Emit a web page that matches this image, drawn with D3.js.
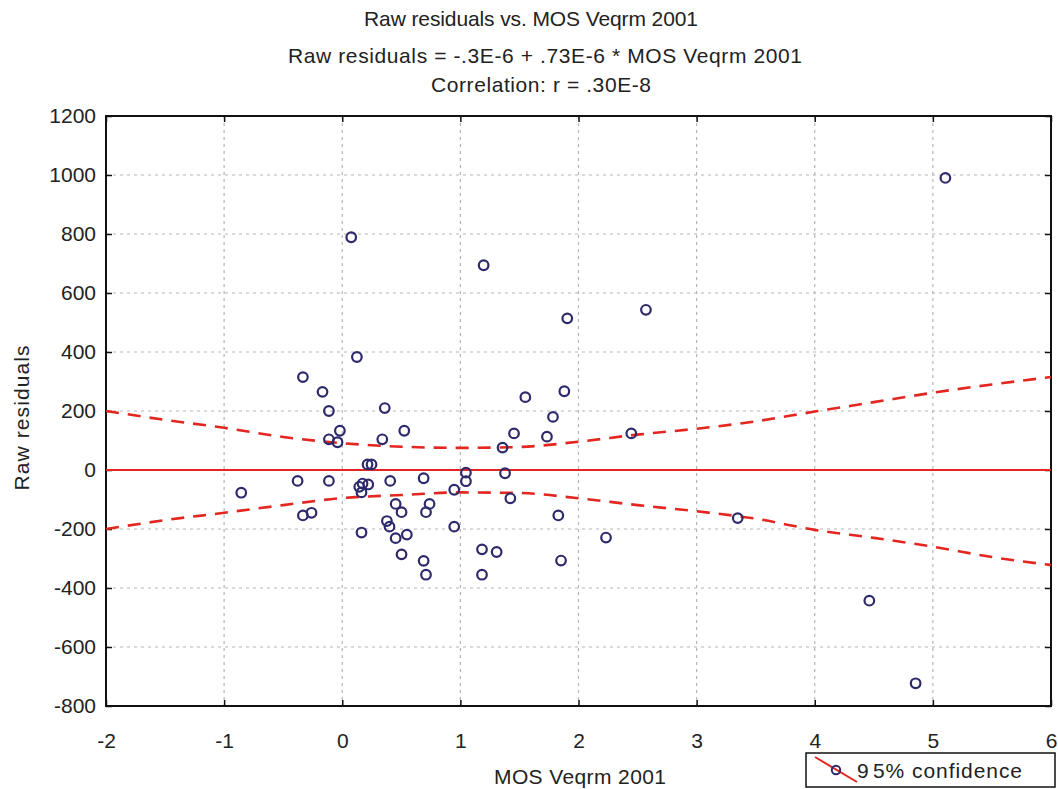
<!DOCTYPE html>
<html>
<head>
<meta charset="utf-8">
<script src="https://cdn.jsdelivr.net/npm/d3@7"></script>
<style>
  html, body { margin: 0; padding: 0; background: #fff; }
  svg { display: block; }
  text { font-family: "Liberation Sans", Arial, Helvetica, sans-serif; fill: #222; }
</style>
</head>
<body>
<svg id="chart" width="1058" height="789"></svg>
<script>
// ---- Data ----
const xVals = [-0.855, -0.378, -0.333, -0.333, -0.26, -0.167, -0.113, -0.113, -0.113, -0.04,
  -0.02, 0.076, 0.124, 0.144, 0.172, 0.163, 0.22, 0.163, 0.214, 0.248,
  0.339, 0.36, 0.378, 0.40, 0.406, 0.452, 0.452, 0.502, 0.502, 0.525,
  0.547, 0.689, 0.689, 0.709, 0.709, 0.739, 0.948, 0.948, 1.047, 1.047,
  1.183, 1.183, 1.197, 1.307, 1.357, 1.378, 1.423, 1.454, 1.55, 1.733,
  1.784, 1.829, 1.852, 1.88, 1.905, 2.233, 2.447, 2.571, 3.348, 4.462,
  4.854, 5.106];
const yVals = [-77, -37, 315, -154, -145, 265, 200, 104, -37, 94,
  133, 789, 383, -57, -46, -76, -49, -212, 19, 19,
  104, 210, -173, -192, -37, -115, -231, -143, -286, 133,
  -219, -28, -308, -143, -355, -115, -67, -192, -9, -38,
  -269, -355, 694, -278, 76, -11, -96, 124, 247, 113,
  180, -154, -307, 267, 514, -229, 124, 543, -163, -443,
  -723, 990];

const fitX = [-2, 6];
const fitY = [0, 0];

const bandX     = [-2, -1.5, -1, -0.5, 0, 0.5, 1, 1.5, 2, 2.5, 3, 3.5, 4, 4.5, 5, 5.5, 6];
const bandUpper = [200, 170, 143, 112, 91, 79, 75, 78, 96, 120, 140, 165, 198, 230, 262, 290, 315];
const bandLower = [-200, -170, -145, -119, -95, -85, -76, -78, -96, -119, -140, -165, -203, -230, -260, -295, -322];

const xTicks = [-2, -1, 0, 1, 2, 3, 4, 5, 6];
const yTicks = [-800, -600, -400, -200, 0, 200, 400, 600, 800, 1000, 1200];

const titleLines = ["Raw residuals vs. MOS Veqrm 2001",
  "Raw residuals = -.3E-6 + .73E-6 * MOS Veqrm 2001",
  "Correlation: r = .30E-8"];
const xLabel = "MOS Veqrm 2001";
const yLabel = "Raw residuals";
const legendParts = ["9", "5% confidence"];

// ---- Layout ----
const L = 106, R = 1051, T = 116, B = 706;
const RED = "#e3261f", NAVY = "#2d2a6c";
const FS = 21;

const svg = d3.select("#chart");
const x = d3.scaleLinear().domain([-2, 6]).range([L, R]);
const y = d3.scaleLinear().domain([-800, 1200]).range([B, T]);
const fmt = d => String(d);

// grid
const grid = svg.append("g");
grid.selectAll("line.gx").data(xTicks.slice(1, -1)).join("line")
  .attr("x1", d => x(d)).attr("x2", d => x(d)).attr("y1", T).attr("y2", B)
  .attr("stroke", "#b5b5b5").attr("stroke-width", 1.2).attr("stroke-dasharray", "3,4");
grid.selectAll("line.gy").data(yTicks.slice(1, -1)).join("line")
  .attr("y1", d => y(d)).attr("y2", d => y(d)).attr("x1", L).attr("x2", R)
  .attr("stroke", "#b5b5b5").attr("stroke-width", 1.2).attr("stroke-dasharray", "3,4");

// axes
const ax = svg.append("g").attr("transform", `translate(0,${B})`)
  .call(d3.axisBottom(x).tickValues(xTicks).tickSize(-6).tickPadding(27).tickFormat(fmt));
const ay = svg.append("g").attr("transform", `translate(${L},0)`)
  .call(d3.axisLeft(y).tickValues(yTicks).tickSize(-6).tickPadding(10).tickFormat(fmt));
const axR = svg.append("g").attr("transform", `translate(${R},0)`)
  .call(d3.axisRight(y).tickValues(yTicks).tickSize(-6).tickFormat(""));
const axT = svg.append("g").attr("transform", `translate(0,${T})`)
  .call(d3.axisTop(x).tickValues(xTicks).tickSize(-6).tickFormat(""));
[ax, ay, axR, axT].forEach(g => {
  g.select(".domain").remove();
  g.selectAll(".tick line").attr("stroke", "#111").attr("stroke-width", 1.5);
  g.selectAll(".tick text").attr("font-size", FS).attr("fill", "#222")
    .attr("font-family", "'Liberation Sans', Arial, sans-serif");
});

// frame
svg.append("rect").attr("x", L).attr("y", T).attr("width", R - L).attr("height", B - T)
  .attr("fill", "none").attr("stroke", "#111").attr("stroke-width", 2);

// confidence bands
const bandLine = d3.line().x((d, i) => x(bandX[i])).y(d => y(d)).curve(d3.curveMonotoneX);
[bandUpper, bandLower].forEach(arr => {
  svg.append("path").attr("d", bandLine(arr))
    .attr("fill", "none").attr("stroke", RED).attr("stroke-width", 2.6)
    .attr("stroke-dasharray", "13,9");
});

// regression line
svg.append("path").attr("d", d3.line().x((d, i) => x(fitX[i])).y(d => y(d))(fitY))
  .attr("fill", "none").attr("stroke", RED).attr("stroke-width", 2);

// points
svg.append("g").selectAll("circle").data(xVals).join("circle")
  .attr("cx", d => x(d)).attr("cy", (d, i) => y(yVals[i])).attr("r", 4.8)
  .attr("fill", "none").attr("stroke", NAVY).attr("stroke-width", 2.2);

// titles
const titleY = [26, 63, 92];
const titleX = [531, 545, 541];
const titleW = [334, 514, 220];
titleLines.forEach((t, i) => {
  svg.append("text").attr("x", titleX[i]).attr("y", titleY[i]).attr("text-anchor", "middle")
    .attr("font-size", FS).attr("textLength", titleW[i]).attr("lengthAdjust", "spacing").text(t);
});

// axis labels
svg.append("text").attr("x", 580).attr("y", 784).attr("text-anchor", "middle")
  .attr("font-size", FS).attr("textLength", 172).attr("lengthAdjust", "spacing").text(xLabel);
svg.append("text").attr("transform", "translate(29,418) rotate(-90)").attr("text-anchor", "middle")
  .attr("font-size", FS).attr("textLength", 145).attr("lengthAdjust", "spacing").text(yLabel);

// legend
const lg = svg.append("g");
lg.append("rect").attr("x", 806).attr("y", 753).attr("width", 249).attr("height", 34)
  .attr("fill", "#fff").attr("stroke", "#111").attr("stroke-width", 1.5);
lg.append("line").attr("x1", 815).attr("y1", 757).attr("x2", 857).attr("y2", 782)
  .attr("stroke", RED).attr("stroke-width", 2);
lg.append("circle").attr("cx", 836).attr("cy", 770).attr("r", 4.2)
  .attr("fill", "none").attr("stroke", NAVY).attr("stroke-width", 2);
lg.append("text").attr("x", 857).attr("y", 778).attr("font-size", FS).text(legendParts[0]);
lg.append("text").attr("x", 873).attr("y", 778).attr("font-size", FS)
  .attr("textLength", 149).attr("lengthAdjust", "spacing").text(legendParts[1]);
</script>
</body>
</html>
